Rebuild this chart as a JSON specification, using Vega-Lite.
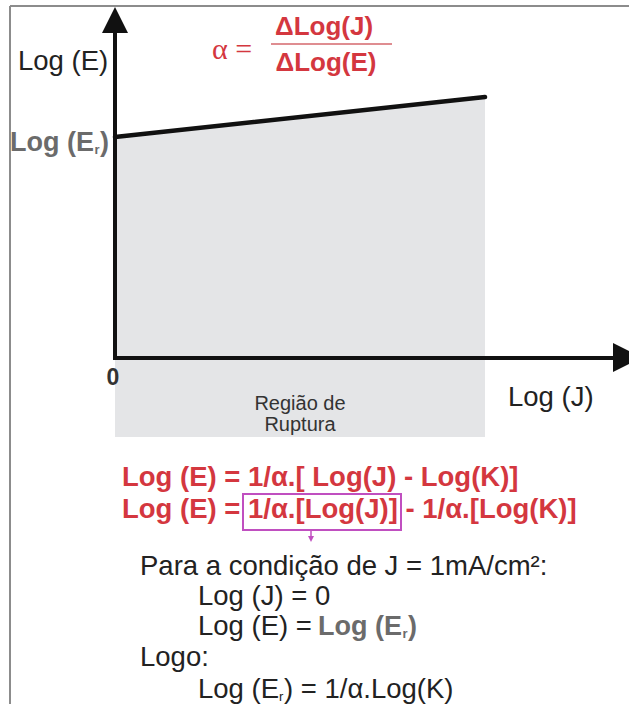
{
  "$schema": "https://vega.github.io/schema/vega-lite/v6.json",
  "width": 629,
  "height": 704,
  "padding": 0,
  "autosize": {"type": "none"},
  "background": "white",
  "config": {"view": {"stroke": null}},
  "datasets": {
    "frame": [
      {"x": 10, "y": 6, "x2": 629, "y2": 6},
      {"x": 10, "y": 6, "x2": 10, "y2": 704}
    ],
    "curve": [
      {"x": 115, "y": 137, "base": 437},
      {"x": 485, "y": 97, "base": 437}
    ],
    "axes": [
      {"x": 115, "y": 30, "x2": 115, "y2": 360},
      {"x": 113, "y": 358, "x2": 615, "y2": 358}
    ],
    "arrowUp": [{"x": 115, "y": 20}],
    "arrowRight": [{"x": 627.5, "y": 357.5}],
    "fracBar": [{"x": 271, "y": 44, "x2": 392, "y2": 44}],
    "box": [{"x": 243, "y": 494, "x2": 401, "y2": 530}],
    "pointer": [{"x": 311, "y": 530, "x2": 311, "y2": 537}],
    "pointerHead": [{"x": 311, "y": 539}],
    "plainText": [
      {"x": 18, "y": 62, "label": "Log (E)"},
      {"x": 508, "y": 398, "label": "Log (J)"},
      {"x": 140, "y": 567, "label": "Para a condição de J = 1mA/cm²:"},
      {"x": 198, "y": 597, "label": "Log (J) = 0"},
      {"x": 198, "y": 627, "label": "Log (E) = "},
      {"x": 140, "y": 658, "label": "Logo:"},
      {"x": 198, "y": 690, "label": "Log (E"},
      {"x": 284, "y": 690, "label": ") = 1/α.Log(K)"}
    ],
    "plainSub": [{"x": 279, "y": 697, "label": "r"}],
    "grayBold": [
      {"x": 10, "y": 143, "label": "Log (E"},
      {"x": 100, "y": 143, "label": ")"},
      {"x": 318, "y": 627, "label": "Log (E"},
      {"x": 408, "y": 627, "label": ")"}
    ],
    "graySub": [
      {"x": 94.5, "y": 150, "label": "r"},
      {"x": 402.5, "y": 634, "label": "r"}
    ],
    "origin": [{"x": 113, "y": 378, "label": "0"}],
    "region": [
      {"x": 300, "y": 404, "label": "Região de"},
      {"x": 300, "y": 425, "label": "Ruptura"}
    ],
    "redLines": [
      {"x": 122, "y": 478, "label": "Log (E) = 1/α.[ Log(J) - Log(K)]"},
      {"x": 122, "y": 510, "label": "Log (E) = 1/α.[Log(J)] - 1/α.[Log(K)]"}
    ],
    "alphaEq": [{"x": 212, "y": 50, "label": "α ="}],
    "fraction": [
      {"x": 324, "y": 27, "label": "ΔLog(J)"},
      {"x": 326, "y": 63, "label": "ΔLog(E)"}
    ]
  },
  "encoding": {
    "x": {"field": "x", "type": "quantitative", "scale": {"domain": [0, 629], "nice": false, "zero": false}, "axis": null},
    "y": {"field": "y", "type": "quantitative", "scale": {"domain": [0, 704], "nice": false, "zero": false, "reverse": true}, "axis": null}
  },
  "layer": [
    {
      "data": {"name": "frame"},
      "mark": {"type": "rule", "color": "#8c8c8c", "strokeWidth": 2},
      "encoding": {"x2": {"field": "x2"}, "y2": {"field": "y2"}}
    },
    {
      "data": {"name": "curve"},
      "mark": {"type": "area", "color": "#e4e5e7", "opacity": 1},
      "encoding": {"y2": {"field": "base"}}
    },
    {
      "data": {"name": "curve"},
      "mark": {"type": "line", "color": "#111111", "strokeWidth": 4.5, "strokeCap": "round"},
      "encoding": {}
    },
    {
      "data": {"name": "axes"},
      "mark": {"type": "rule", "color": "#111111", "strokeWidth": 4},
      "encoding": {"x2": {"field": "x2"}, "y2": {"field": "y2"}}
    },
    {
      "data": {"name": "arrowUp"},
      "mark": {"type": "point", "shape": "M0,-1L1,1L-1,1Z", "size": 676, "filled": true, "color": "#111111", "opacity": 1}
    },
    {
      "data": {"name": "arrowRight"},
      "mark": {"type": "point", "shape": "M-1,-1L1,0L-1,1Z", "size": 841, "filled": true, "color": "#111111", "opacity": 1, "clip": true}
    },
    {
      "data": {"name": "fracBar"},
      "mark": {"type": "rule", "color": "#d4676c", "strokeWidth": 1.5},
      "encoding": {"x2": {"field": "x2"}, "y2": {"field": "y2"}}
    },
    {
      "data": {"name": "box"},
      "mark": {"type": "rect", "filled": false, "stroke": "#c04fc0", "strokeWidth": 2},
      "encoding": {"x2": {"field": "x2"}, "y2": {"field": "y2"}}
    },
    {
      "data": {"name": "pointer"},
      "mark": {"type": "rule", "color": "#c04fc0", "strokeWidth": 1.5},
      "encoding": {"x2": {"field": "x2"}, "y2": {"field": "y2"}}
    },
    {
      "data": {"name": "pointerHead"},
      "mark": {"type": "point", "shape": "M-1,-1L1,-1L0,1Z", "size": 36, "filled": true, "color": "#c04fc0", "opacity": 1}
    },
    {
      "data": {"name": "plainText"},
      "mark": {"type": "text", "font": "Liberation Sans", "fontSize": 27.5, "color": "#222222", "align": "left", "baseline": "middle"},
      "encoding": {"text": {"field": "label"}}
    },
    {
      "data": {"name": "plainSub"},
      "mark": {"type": "text", "font": "Liberation Sans", "fontSize": 13, "color": "#222222", "align": "left", "baseline": "middle"},
      "encoding": {"text": {"field": "label"}}
    },
    {
      "data": {"name": "grayBold"},
      "mark": {"type": "text", "font": "Liberation Sans", "fontSize": 27, "fontWeight": "bold", "color": "#6b6b6b", "align": "left", "baseline": "middle"},
      "encoding": {"text": {"field": "label"}}
    },
    {
      "data": {"name": "graySub"},
      "mark": {"type": "text", "font": "Liberation Sans", "fontSize": 13, "fontWeight": "bold", "color": "#6b6b6b", "align": "left", "baseline": "middle"},
      "encoding": {"text": {"field": "label"}}
    },
    {
      "data": {"name": "origin"},
      "mark": {"type": "text", "font": "Liberation Sans", "fontSize": 23, "fontWeight": "bold", "color": "#333333", "align": "center", "baseline": "middle"},
      "encoding": {"text": {"field": "label"}}
    },
    {
      "data": {"name": "region"},
      "mark": {"type": "text", "font": "Liberation Sans", "fontSize": 20, "color": "#333333", "align": "center", "baseline": "middle"},
      "encoding": {"text": {"field": "label"}}
    },
    {
      "data": {"name": "redLines"},
      "mark": {"type": "text", "font": "Liberation Sans", "fontSize": 27.5, "fontWeight": "bold", "color": "#d4373f", "align": "left", "baseline": "middle"},
      "encoding": {"text": {"field": "label"}}
    },
    {
      "data": {"name": "alphaEq"},
      "mark": {"type": "text", "font": "Liberation Serif", "fontSize": 30, "color": "#d4373f", "align": "left", "baseline": "middle"},
      "encoding": {"text": {"field": "label"}}
    },
    {
      "data": {"name": "fraction"},
      "mark": {"type": "text", "font": "Liberation Sans", "fontSize": 26, "fontWeight": "bold", "color": "#d4373f", "align": "center", "baseline": "middle"},
      "encoding": {"text": {"field": "label"}}
    }
  ]
}
